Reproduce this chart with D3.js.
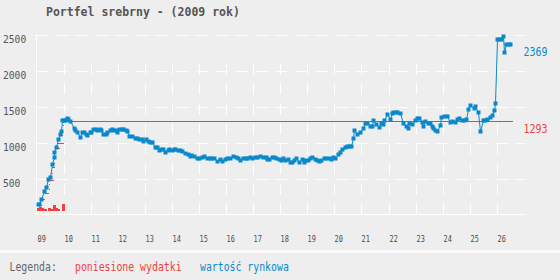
<!DOCTYPE html>
<html><head><meta charset="utf-8">
<script src="https://cdn.jsdelivr.net/npm/d3@7"></script>
<style>html,body{margin:0;padding:0;background:#eeeeee}svg{display:block}</style>
</head><body>
<svg id="chart" width="560" height="280"></svg>
<script>
const title = "Portfel srebrny - (2009 rok)";
const weekTicks = [9,10,11,12,13,14,15,16,17,18,19,20,21,22,23,24,25,26];
const weekLabels = ["09","10","11","12","13","14","15","16","17","18","19","20","21","22","23","24","25","26"];
const valueTicks = [500,1000,1500,2000,2500];
const valueLabels = ["500","1000","1500","2000","2500"];
const legendTitle = "Legenda:";
const seriesNames = ["poniesione wydatki","wartość rynkowa"];

// market value (blue)
const marketWeeks = [9.04,9.11,9.18,9.26,9.36,9.44,9.51,9.57,9.63,9.66,9.73,9.78,9.85,9.89,9.94,10.00,10.06,10.12,10.18,10.24,
10.37,10.44,10.51,10.59,10.68,10.74,10.81,10.88,10.96,11.03,11.10,11.18,11.25,11.33,11.40,11.47,11.57,11.62,11.70,11.77,
11.84,11.92,11.99,12.06,12.14,12.21,12.29,12.36,12.43,12.51,12.63,12.71,12.80,12.89,12.95,13.04,13.11,13.20,13.27,13.37,
13.45,13.52,13.59,13.67,13.76,13.84,13.91,13.99,14.06,14.13,14.21,14.31,14.38,14.50,14.58,14.65,14.72,14.80,14.92,15.00,
15.12,15.20,15.29,15.39,15.46,15.57,15.66,15.76,15.86,15.96,16.05,16.15,16.27,16.35,16.45,16.53,16.62,16.72,16.79,16.87,
16.97,17.06,17.16,17.26,17.35,17.46,17.53,17.60,17.68,17.78,17.85,17.94,18.03,18.12,18.19,18.29,18.37,18.45,18.52,18.60,
18.70,18.79,18.86,18.93,19.03,19.11,19.19,19.28,19.35,19.45,19.52,19.60,19.70,19.80,19.87,19.95,20.04,20.12,20.19,20.29,
20.39,20.46,20.54,20.63,20.68,20.73,20.85,20.95,21.05,21.14,21.20,21.30,21.39,21.44,21.52,21.63,21.72,21.78,21.85,21.94,
22.04,22.11,22.18,22.26,22.33,22.43,22.55,22.63,22.70,22.77,22.87,22.96,23.05,23.12,23.22,23.29,23.36,23.44,23.54,23.60,
23.66,23.72,23.79,23.89,23.95,24.03,24.16,24.28,24.36,24.45,24.52,24.62,24.71,24.79,24.87,24.95,25.02,25.14,25.20,25.29,
25.36,25.48,25.57,25.65,25.75,25.82,25.88,25.94,26.00,26.08,26.15,26.22,26.27,26.34,26.43,26.49];
const marketValues = [139,139,212,323,383,494,520,698,800,869,939,1055,1115,1161,1319,1319,1319,1342,1330,1296,
1208,1171,1148,1083,1148,1140,1125,1111,1143,1143,1181,1194,1171,1194,1171,1125,1125,1139,1171,1194,
1171,1171,1139,1185,1194,1194,1171,1157,1097,1097,1064,1064,1046,1046,1022,1046,1022,1004,1004,935,
935,893,911,911,865,893,911,893,911,911,893,893,883,856,837,819,828,819,786,786,
800,810,791,791,778,778,745,768,740,773,782,791,819,796,782,754,778,782,782,805,
791,796,796,819,796,805,773,773,805,796,782,768,754,791,754,768,736,736,754,791,
736,768,736,754,754,778,796,768,754,740,754,782,791,782,768,805,782,847,875,911,
935,949,949,949,1069,1180,1115,1139,1208,1264,1264,1236,1236,1319,1254,1217,1264,1254,1319,1393,
1333,1411,1421,1421,1421,1403,1272,1236,1208,1264,1254,1310,1338,1347,1286,1236,1296,1264,1264,1230,
1203,1180,1157,1250,1356,1370,1370,1278,1300,1278,1333,1347,1319,1319,1333,1462,1518,1481,1504,1425,
1157,1319,1319,1333,1356,1379,1449,1542,2444,2444,2444,2477,2258,2365,2369,2369];

// incurred expenses (red), cumulative level held between two dates
const costFrom = [9.12,9.21,9.32,9.47,9.47,9.50,9.58,9.57,9.66,9.69,9.69,9.81,9.96,9.99,10.00];
const costTo   = [9.21,9.33,9.47,9.48,9.50,9.63,9.60,9.69,9.68,9.71,9.85,10.00,9.98,10.01,26.59];
const costValues = [130,210,305,361,430,485,570,655,710,800,930,1000,1111,1240,1293];

// single purchases (red bars near the axis)
const buyWeeks = [9.01,9.11,9.18,9.26,9.43,9.53,9.61,9.68,9.75,9.95];
const buyValues = [30,40,30,17,34,24,57,30,24,70];

const BLUE = "#0a88cc", RED = "#f04040", GREY = "#555555", MONO = "'DejaVu Sans Mono', monospace";

const svg = d3.select("#chart");
svg.append("rect").attr("width",560).attr("height",280).attr("fill","#eeeeee");
svg.append("rect").attr("x",0).attr("y",250).attr("width",560).attr("height",3).attr("fill","#fafafa");

const x = d3.scaleLinear().domain([9,27.05]).range([36.5,525.3]);
const y = d3.scaleLinear().domain([0,2500]).range([214.5,34.5]);
const yBuy = d3.scaleLinear().domain([0,100]).range([211,201]);
const px = v => Math.round(x(v)) + 0.5;
const py = v => Math.round(y(v)) + 0.5;

function label(sel, str, cw) {
  sel.text(str);
  if (cw) sel.attr("textLength", str.length*cw).attr("lengthAdjust","spacingAndGlyphs");
  return sel;
}

// grid
const grid = svg.append("g").attr("stroke","#ffffff").attr("stroke-width",1).attr("fill","none");
grid.selectAll(".h").data(valueTicks).join("line")
  .attr("x1",x.range()[0]).attr("x2",x.range()[1])
  .attr("y1",d=>py(d)).attr("y2",d=>py(d)).attr("stroke-dasharray","11,9");
grid.selectAll(".v").data(weekTicks.slice(1)).join("line")
  .attr("x1",d=>px(d)).attr("x2",d=>px(d))
  .attr("y1",y(0)).attr("y2",y(2100)).attr("stroke-dasharray","11,9");
grid.append("line").attr("x1",x(9)).attr("x2",x(9)).attr("y1",y(2500)).attr("y2",y(0));
grid.append("line").attr("x1",x.range()[0]).attr("x2",x.range()[1]).attr("y1",y(0)).attr("y2",y(0));

// axis labels
svg.append("g").selectAll("text").data(valueTicks).join("text")
  .attr("x",3).attr("y",d=>y(d)+8).attr("font-family",MONO).attr("font-size",11).attr("fill",GREY)
  .each(function(d,i){ label(d3.select(this), valueLabels[i], 5.8); });
svg.append("g").selectAll("text").data(weekTicks).join("text")
  .attr("x",d=>px(d)).attr("y",241.5).attr("font-family",MONO).attr("font-size",8).attr("fill","#4a4a4a")
  .each(function(d,i){ label(d3.select(this), weekLabels[i], 4.15); });

// purchases
svg.append("g").attr("fill",RED).selectAll("rect").data(buyWeeks).join("rect")
  .attr("x",d=>Math.round(x(d))).attr("width",3)
  .attr("y",(d,i)=>Math.round(yBuy(buyValues[i]))).attr("height",(d,i)=>yBuy(0)-Math.round(yBuy(buyValues[i])));

// expenses
svg.append("g").attr("stroke",RED).attr("stroke-width",1).attr("shape-rendering","crispEdges")
  .selectAll("line").data(costValues).join("line")
  .attr("x1",(d,i)=>Math.round(x(costFrom[i]))).attr("x2",(d,i)=>Math.max(Math.round(x(costTo[i])),Math.round(x(costFrom[i]))+1))
  .attr("y1",d=>py(d)).attr("y2",d=>py(d));

// market value
const market = marketWeeks.map((w,i)=>({w, v: marketValues[i]}));
svg.append("path").datum(market).attr("fill","none").attr("stroke",BLUE).attr("stroke-width",1)
  .attr("d", d3.line().x(d=>Math.round(x(d.w))+0.5).y(d=>Math.round(y(d.v))+0.5));
svg.append("g").attr("fill",BLUE).selectAll("rect").data(market).join("rect")
  .attr("x",d=>Math.round(x(d.w))-1.5).attr("y",d=>Math.round(y(d.v))-1.5).attr("width",4).attr("height",4);

// end labels
const lastMarket = marketValues[marketValues.length-1];
const lastCost = costValues[costValues.length-1];
label(svg.append("text").attr("x",523.5).attr("y",y(lastMarket)+12).attr("font-family",MONO)
  .attr("font-size",12).attr("fill",BLUE), String(lastMarket), 6);
label(svg.append("text").attr("x",523.5).attr("y",y(lastCost)+12).attr("font-family",MONO)
  .attr("font-size",12).attr("fill",RED), String(lastCost), 6);

// title
svg.append("text").attr("x",46).attr("y",16).attr("font-family",MONO).attr("font-weight","bold")
  .attr("font-size",11.5).attr("fill",GREY).text(title);

// legend
label(svg.append("text").attr("x",9.5).attr("y",271).attr("font-family",MONO).attr("font-size",12)
  .attr("fill","#666666"), legendTitle, 5.92);
label(svg.append("text").attr("x",75).attr("y",271).attr("font-family",MONO).attr("font-size",12)
  .attr("fill",RED), seriesNames[0], 5.92);
label(svg.append("text").attr("x",200).attr("y",271).attr("font-family",MONO).attr("font-size",12)
  .attr("fill",BLUE), seriesNames[1], 5.92);
</script>
</body></html>
